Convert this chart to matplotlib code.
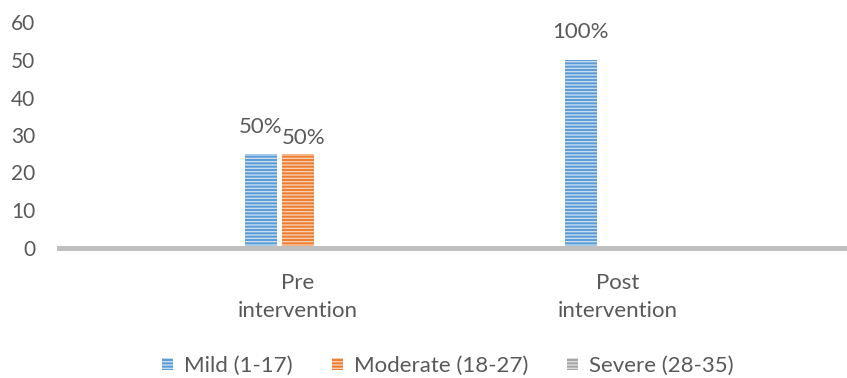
import matplotlib
matplotlib.use("Agg")
import matplotlib.pyplot as plt
import numpy as np

plt.rcParams['font.family'] = ['Lato', 'DejaVu Sans']
plt.rcParams['hatch.linewidth'] = 1.0

categories = ["Pre\nintervention", "Post\nintervention"]
series_names = ["Mild (1-17)", "Moderate (18-27)", "Severe (28-35)"]
mild = [25, 50]
moderate = [25, 0]
severe = [0, 0]
mild_pct = ["50%", "100%"]
moderate_pct = ["50%", ""]
severe_pct = ["", ""]
y_ticks = [0, 10, 20, 30, 40, 50, 60]

face_colors = ["#5B9BD5", "#ED7D31", "#A5A5A5"]
stripe_colors = ["#C5DCF1", "#F8CDB0", "#DCDCDC"]
text_color = "#595959"

W, H, DPI = 847, 378, 100
fig = plt.figure(figsize=(W / DPI, H / DPI), dpi=DPI)
ax = fig.add_axes([59 / W, 130.5 / H, 787 / W, 225 / H])

x = np.arange(len(categories))
offsets = [-0.117, 0.0, 0.117]
width = 0.1
values = [mild, moderate, severe]
pcts = [mild_pct, moderate_pct, severe_pct]
handles = []
for i, (vals, name) in enumerate(zip(values, series_names)):
    ax.bar(x + offsets[i], vals, width, color=face_colors[i],
           edgecolor="none", zorder=2, label=name)
    ax.bar(x + offsets[i], vals, width, fill=False, hatch="-----",
           edgecolor=stripe_colors[i], linewidth=0, zorder=3)
    handles.append(plt.Rectangle((0, 0), 1, 1, facecolor=face_colors[i],
                                 edgecolor=stripe_colors[i], hatch="-----",
                                 linewidth=0))

# value labels above the bars
label_shift = {(0, 0): (0, 19), (1, 0): (4, 11), (0, 1): (0, 20)}
for i, (vals, labs) in enumerate(zip(values, pcts)):
    for j, (v, lab) in enumerate(zip(vals, labs)):
        if not lab:
            continue
        dx, dy = label_shift.get((i, j), (0, 19))
        ax.annotate(lab, (x[j] + offsets[i], v), xytext=(dx, dy),
                    textcoords="offset points", ha="center", va="center",
                    fontsize=16, color=text_color)

ax.set_xlim(-239 / 320, 548 / 320)
ax.set_ylim(0, 60)
ax.set_yticks(y_ticks)
ax.set_xticks(x)
ax.set_xticklabels(categories, linespacing=1.5)
ax.tick_params(axis="y", length=0, pad=17, labelsize=15, labelcolor=text_color)
ax.tick_params(axis="x", length=0, pad=18.5, labelsize=16, labelcolor=text_color)
for s in ["top", "right", "left"]:
    ax.spines[s].set_visible(False)
ax.spines["bottom"].set_color("#BFBFBF")
ax.spines["bottom"].set_linewidth(3.6)
ax.spines["bottom"].set_zorder(4)

fig.legend(handles, series_names, loc="center",
           bbox_to_anchor=(448 / W, 1 - 366 / H),
           ncol=3, frameon=False, fontsize=16, labelcolor=text_color,
           handlelength=0.5, handleheight=0.5, handletextpad=0.5,
           columnspacing=1.75)

fig.savefig("out.png", dpi=DPI)
